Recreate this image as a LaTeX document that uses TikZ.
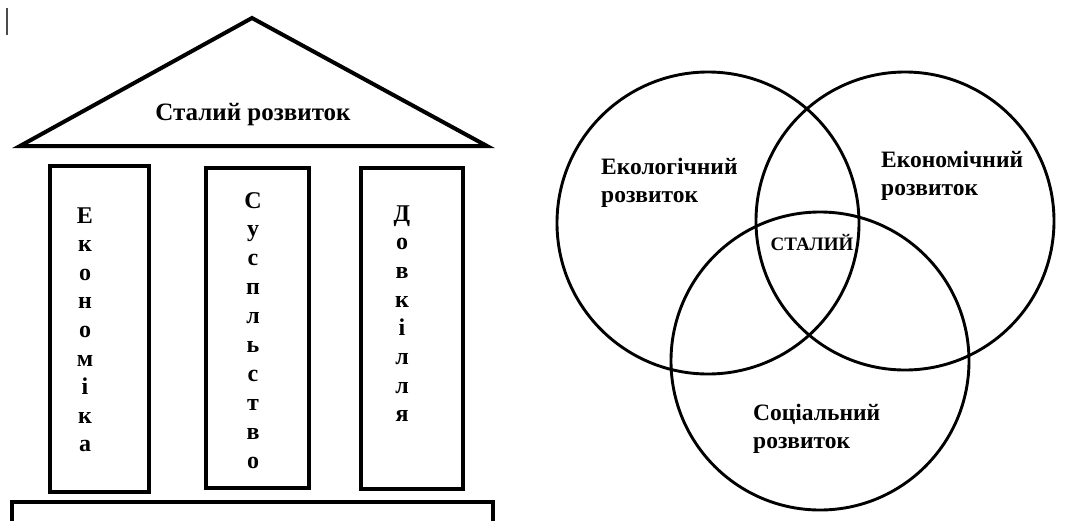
\documentclass[tikz,border=0pt]{standalone}
\usepackage{fontspec}
\setmainfont{Liberation Serif}
\begin{document}
\begin{tikzpicture}[x=1pt,y=-1pt,
    wall/.style={line width=4pt, line join=miter},
    ring/.style={line width=2.9pt},
    letter/.style={font=\fontsize{24}{26}\selectfont\bfseries, anchor=base, inner sep=0pt},
    circlelabel/.style={font=\fontsize{23.5}{28}\selectfont\bfseries, anchor=north west, align=left, inner sep=0pt}]
\useasboundingbox (0,0) rectangle (1069,520);
\draw[line width=1.2pt, black!70] (7,8) -- (7,35);
% roof
\draw[wall] (20,146) -- (252,18) -- (487,146) -- cycle;
\node[letter, font=\fontsize{25}{27}\selectfont\bfseries] (roof) at (253,120) {Сталий розвиток};
% pillars
\draw[wall] (50,166) rectangle (149,492);
\draw[wall] (206,168) rectangle (309,488);
\draw[wall] (361,168) rectangle (463,489);
% base
\draw[wall] (12,525) -- (12,502) -- (493,502) -- (493,525);
\foreach \l [count=\i] in {Е,к,о,н,о,м,і,к,а}
  \node[letter] (ekon-\i) at (85,{223+28.6*(\i-1)}) {\l};
\foreach \l [count=\i] in {С,у,с,п,л,ь,с,т,в,о}
  \node[letter] (susp-\i) at (253,{208+28.9*(\i-1)}) {\l};
\foreach \l [count=\i] in {Д,о,в,к,і,л,л,я}
  \node[letter] (dovk-\i) at (402,{221+28.7*(\i-1)}) {\l};
% circles
\draw[ring] (708,223) circle[radius=151];
\draw[ring] (905,221) circle[radius=149];
\draw[ring] (820,361) circle[radius=149];
\node[circlelabel] (ecol) at (601,158) {Екологічний\\розвиток};
\node[circlelabel] (econ) at (881,151) {Економічний\\розвиток};
\node[font=\fontsize{19}{21}\selectfont\bfseries, anchor=base, inner sep=0pt] (stalyi) at (812,250) {СТАЛИЙ};
\node[circlelabel] (soc) at (753,404) {Соціальний\\розвиток};
\end{tikzpicture}
\end{document}
